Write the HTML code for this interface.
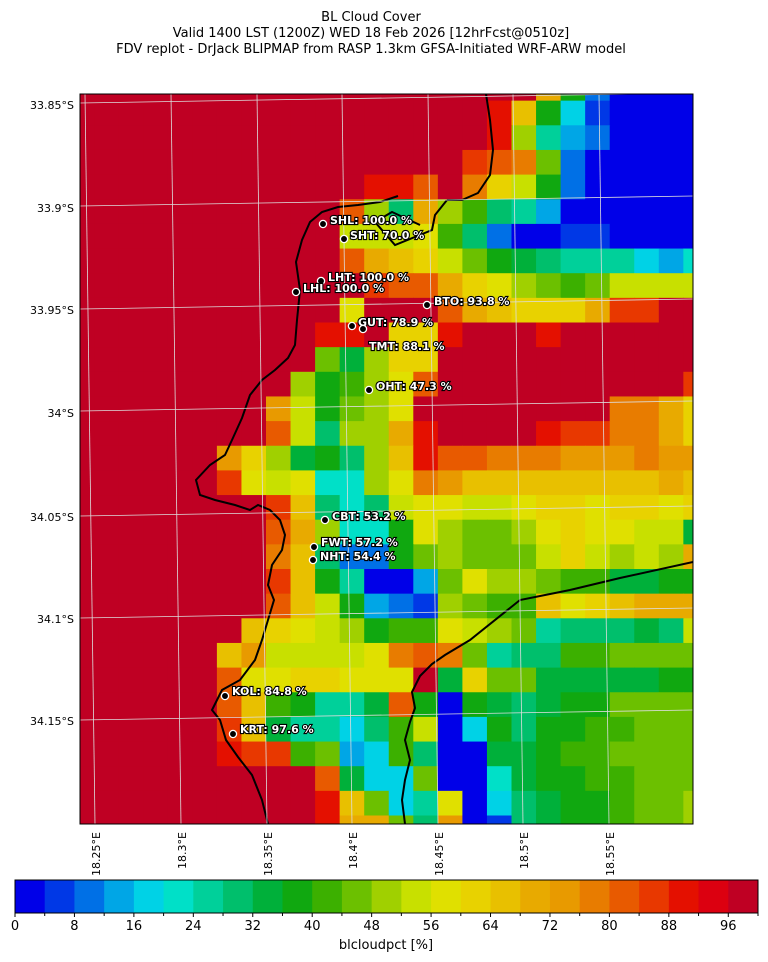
<!DOCTYPE html>
<html><head><meta charset="utf-8"><style>
html,body{margin:0;padding:0;background:#fff;}
svg{display:block;font-family:"Liberation Sans","DejaVu Sans",sans-serif;}
.st{font-weight:bold;font-size:11px;fill:#fff;stroke:#000;stroke-width:2.2px;paint-order:stroke;font-family:"DejaVu Sans","Liberation Sans",sans-serif;}
</style></head><body>
<svg id="s" width="768" height="962" viewBox="0 0 768 962" xmlns="http://www.w3.org/2000/svg">
<rect width="768" height="962" fill="#fff"/>
<text x="371" y="21" font-size="13" text-anchor="middle" font-family="DejaVu Sans,sans-serif">BL Cloud Cover</text>
<text x="371" y="37" font-size="13" text-anchor="middle" font-family="DejaVu Sans,sans-serif">Valid 1400 LST (1200Z) WED 18 Feb 2026 [12hrFcst@0510z]</text>
<text x="371" y="53" font-size="13" text-anchor="middle" font-family="DejaVu Sans,sans-serif">FDV replot - DrJack BLIPMAP from RASP 1.3km GFSA-Initiated WRF-ARW model</text>
<defs><clipPath id="pc"><rect x="80" y="94" width="613" height="730"/></clipPath></defs>
<g id="grid" clip-path="url(#pc)"></g>
<g clip-path="url(#pc)" fill="none" stroke="#000" stroke-width="2">
<polyline points="486,94 490,120 493,150 490,175 478,193 462,200 447,200"/>
<polyline points="447,200 435,215 432,230 395,245 375,222 392,212 420,225"/>
<polyline points="398,196 380,202 358,205 338,207 322,212 310,222 302,240 296,262 300,290 297,320 295,345 288,358 275,370 262,380 250,395 242,418 232,440 225,455 210,465 196,480 200,495 215,500 235,505 250,510 258,505 270,510 280,520 285,535 282,550 272,565 268,585 274,600 268,620 262,640 255,660 240,680 222,690 212,710 220,720 226,740 238,757 252,775 262,800 268,824"/>
<polyline points="405,824 402,800 405,780 410,760 405,740 410,722 415,708 412,692 420,676 432,664 445,655 470,640 520,600 570,590 620,578 693,562"/>
</g>
<g id="gl" clip-path="url(#pc)" stroke="#ddd" stroke-width="0.8" fill="none"></g>
<rect x="80" y="94" width="613" height="730" fill="none" stroke="#000" stroke-width="1"/>
<g font-size="11" text-anchor="end" font-family="DejaVu Sans,sans-serif">
<text x="74" y="109">33.85°S</text><text x="74" y="212">33.9°S</text><text x="74" y="314">33.95°S</text><text x="74" y="417">34°S</text><text x="74" y="521">34.05°S</text><text x="74" y="623">34.1°S</text><text x="74" y="725">34.15°S</text>
</g>
<g font-size="11" text-anchor="end" font-family="DejaVu Sans,sans-serif">
<text transform="translate(100,832) rotate(-90)">18.25°E</text>
<text transform="translate(186,832) rotate(-90)">18.3°E</text>
<text transform="translate(272,832) rotate(-90)">18.35°E</text>
<text transform="translate(357,832) rotate(-90)">18.4°E</text>
<text transform="translate(443,832) rotate(-90)">18.45°E</text>
<text transform="translate(528,832) rotate(-90)">18.5°E</text>
<text transform="translate(614,832) rotate(-90)">18.55°E</text>
</g>
<g id="st"></g>
<g id="cb"></g>
<text x="386" y="949" font-size="13" text-anchor="middle" font-family="DejaVu Sans,sans-serif">blcloudpct [%]</text>
</svg>
<script>
var C={a:"#0000e8",b:"#0038e6",c:"#0070e6",d:"#00a6e6",e:"#00d2e6",f:"#00e0c8",g:"#00d09a",h:"#00bf6c",i:"#00b03a",j:"#10a810",k:"#3cb000",l:"#6cc000",m:"#a0d000",n:"#c8e000",o:"#e0e000",p:"#e8d200",q:"#e8c000",r:"#e8aa00",s:"#e89a00",t:"#e87c00",u:"#e85a00",v:"#e83800",w:"#e41000",x:"#dc0010",y:"#bf0023"};
var G=[
"yyyyyyyyyyyyyyyyyyyrjcaaaa",
"yyyyyyyyyyyyyyyyywqjebaaaa",
"yyyyyyyyyyyyyyyyywmgdcaaaa",
"yyyyyyyyyyyyyyyyvutlcaaaaa",
"yyyyyyyyyyyywwuytpnjcaaaaa",
"yyyyyyyyyyyumhrmkhgdaaaaaa",
"yyyyyyyyyyynnnokhcaabbaaaa",
"yyyyyyyyyyyurqpnljihgggedf",
"yyyyyyyyyyyyvuurpomlklnnnn",
"yyyyyyyyyyyoyyyurqppprvvyy",
"yyyyyyyyyywwyppwyyywyyyyyy",
"yyyyyyyyyylimppyyyyyyyyyyy",
"yyyyyyyyymjkmouyyyyyyyyyyv",
"yyyyyyyysnjlmoyyyyyyyyttrp",
"yyyyyyyyunhmmrwyyyywvvttrp",
"yyyyyyspmijhmqwuutttssstss",
"yyyyyyvonoffmotsqqqqqqqqrq",
"yyyyyyyyvqhfhnoonnoppoppop",
"yyyyyyyyurmffjomllmopoonni",
"yyyyyyyytqhccjlmlllnpnmnmr",
"yyyyyyyyvqjgaadlommlkkiijj",
"yyyyyyyyuqnjdcbmlkkqopqrrr",
"yyyyyyyqponmjkkonmlghhhihn",
"yyyyyyqsnnnnotutlghhkkllll",
"yyyyyyuooppoooyiplliiiiijj",
"yyyyyyuqkjggiujajihijjllll",
"yyyyyyvqiggehknaejhjjkklll",
"yyyyyywvvkldekhaaiijkkllll",
"yyyyyyyyyyuieelaafijjkklll",
"yyyyyyyyyywqlegoaehijjkllm",
"yyyyyyyyyywrrlhsabhijjkllm"];
var ns="http://www.w3.org/2000/svg",g=document.getElementById("grid");
function el(t,a,p){var e=document.createElementNS(ns,t);for(var k in a)e.setAttribute(k,a[k]);(p||g).appendChild(e);return e;}
for(var r=0;r<G.length;r++){for(var c=0;c<26;c++){var ch=G[r][c]||"y";el("rect",{x:(69.6+24.55*c).toFixed(2),y:(76+24.65*r).toFixed(2),width:25.1,height:25.2,fill:C[ch]});}}
var gl=document.getElementById("gl");
[104,207,310,412,517,619,721].forEach(function(y){el("line",{x1:80,y1:y-1,x2:693,y2:y-11},gl);});
[95,181,267,352,438,523,609].forEach(function(x){el("line",{x1:x-10,y1:94,x2:x,y2:824},gl);});
var S=document.getElementById("st");
var pts=[[323,224,"SHL: 100.0 %",330,224],[344,239,"SHT: 70.0 %",350,239],[321,281,"LHT: 100.0 %",328,281],[296,292,"LHL: 100.0 %",303,292],[427,305,"BTO: 93.8 %",434,305],[352,326,"GUT: 78.9 %",358,326],[363,329,null],[null,null,"TMT: 88.1 %",369,350],[369,390,"OHT: 47.3 %",376,390],[325,520,"CBT: 53.2 %",332,520],[314,547,"FWT: 57.2 %",321,546],[313,560,"NHT: 54.4 %",320,560],[225,696,"KOL: 84.8 %",232,695],[233,734,"KRT: 97.6 %",240,733]];
pts.forEach(function(p){if(p[0]!==null)el("circle",{cx:p[0],cy:p[1],r:3.6,fill:"#000",stroke:"#fff","stroke-width":1.3},S);if(p[2]){var t=el("text",{x:p[3],y:p[4],"class":"st"},S);t.textContent=p[2];}});
var cb=document.getElementById("cb"),keys="abcdefghijklmnopqrstuvwxy",w=(758-15)/25;
for(var i=0;i<25;i++)el("rect",{x:(15+i*w).toFixed(2),y:880,width:(w+0.5).toFixed(2),height:33,fill:C[keys[i]]},cb);
el("rect",{x:15,y:880,width:743,height:33,fill:"none",stroke:"#000","stroke-width":1},cb);
for(var i=0;i<=25;i++){var x=15+i*w;el("line",{x1:x,y1:913,x2:x,y2:i%2==0?917:916,stroke:"#000","stroke-width":1},cb);if(i%2==0&&i<25){var t=el("text",{x:x,y:930,"font-size":13,"text-anchor":"middle","font-family":"DejaVu Sans,sans-serif"},cb);t.textContent=String(i*4);}}
</script>
</body></html>
